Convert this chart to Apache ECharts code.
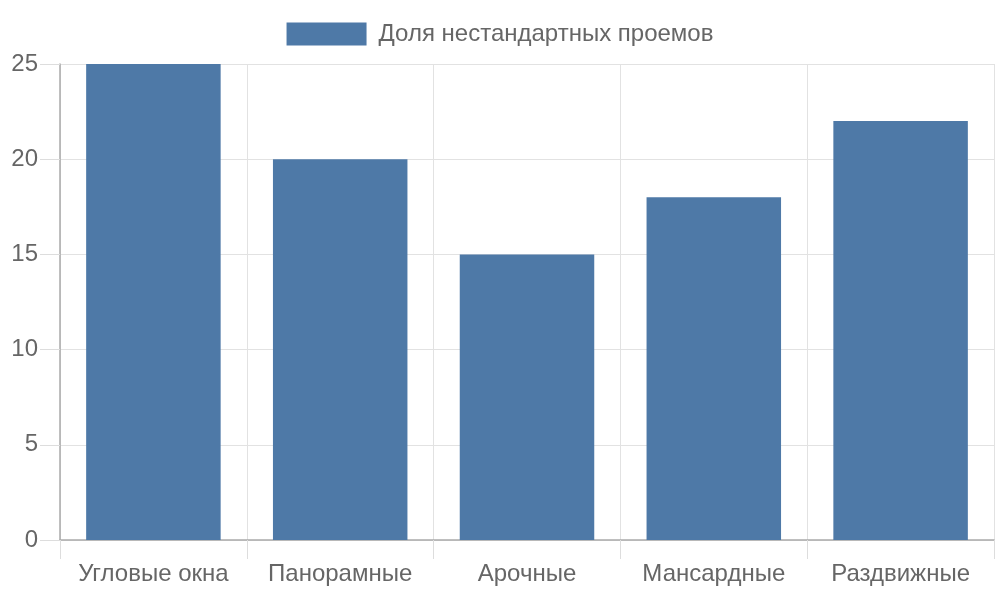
<!DOCTYPE html>
<html>
<head>
<meta charset="utf-8">
<script src="https://cdn.jsdelivr.net/npm/echarts@6/dist/echarts.min.js"></script>
<style>
  html, body { margin: 0; padding: 0; background: #fff; }
  #main { width: 1000px; height: 600px; }
</style>
</head>
<body>
<div id="main"></div>
<script>
// данные
var categories = ['Угловые окна', 'Панорамные', 'Арочные', 'Мансардные', 'Раздвижные'];
var shares = [25, 20, 15, 18, 22];
var seriesName = 'Доля нестандартных проемов';

var myChart = echarts.init(document.getElementById('main'));

var option = {
    textStyle: { fontFamily: 'Liberation Sans, Arial, sans-serif' },
    legend: {
        top: 17,
        left: 'center',
        itemWidth: 80,
        itemHeight: 23,
        icon: 'rect',
        textStyle: { fontSize: 24, color: '#666', padding: [0, 0, 0, 7] },
        data: [seriesName]
    },
    grid: {
        left: 60,
        right: 6,
        top: 64,
        bottom: 60,
        containLabel: false
    },
    xAxis: {
        type: 'category',
        data: categories,
        axisLine: { lineStyle: { color: '#aaa', width: 1.5 } },
        axisTick: { show: true, interval: 0, length: 19, lineStyle: { color: '#ddd' } },
        axisLabel: { interval: 0, hideOverlap: false, fontSize: 24, color: '#666', margin: 22 },
        splitLine: { show: true, interval: 0, lineStyle: { color: '#e2e2e2' } }
    },
    yAxis: {
        type: 'value',
        min: 0,
        max: 25,
        interval: 5,
        axisLine: { show: true, lineStyle: { color: '#aaa', width: 1.5 } },
        axisTick: { show: true, length: 20, lineStyle: { color: '#ddd' } },
        axisLabel: { fontSize: 24, color: '#666', margin: 22 },
        splitLine: { show: true, lineStyle: { color: '#e2e2e2' } }
    },
    series: [
        {
            name: seriesName,
            type: 'bar',
            data: shares,
            barCategoryGap: '28%',
            itemStyle: { color: '#4e79a7' }
        }
    ],
    animation: false
};

myChart.setOption(option);
</script>
</body>
</html>
